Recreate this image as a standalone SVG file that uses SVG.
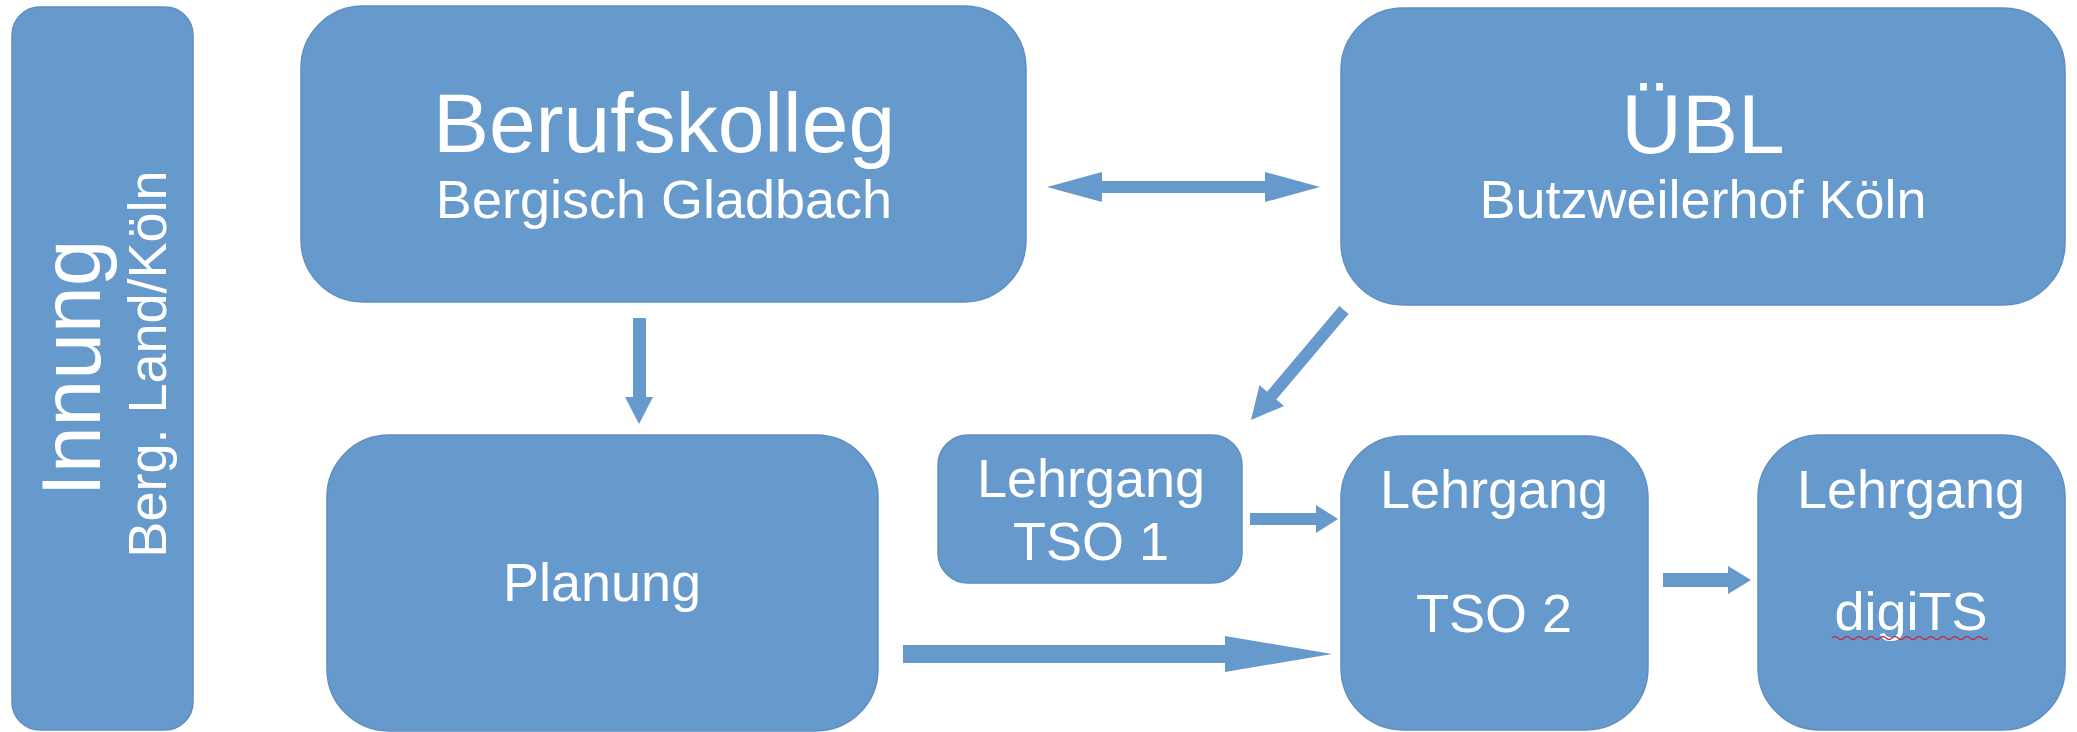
<svg xmlns="http://www.w3.org/2000/svg" width="2077" height="732" viewBox="0 0 2077 732">
<style>
.box{fill:#6699cc;stroke:#5f8fc2;stroke-width:1.5}
.arr{fill:#6699cc;stroke:none}
text{font-family:"Liberation Sans",Arial,sans-serif;fill:#ffffff;text-anchor:middle}
.big{font-size:84px}
.mid{font-size:54px}
</style>
<rect width="2077" height="732" fill="#ffffff"/>
<g id="innung">
<rect class="box" x="12" y="7" width="181" height="723" rx="28"/>
<text class="big" transform="translate(100,368) rotate(-90)">Innung</text>
<text class="mid" transform="translate(166,364) rotate(-90)">Berg. Land/Köln</text>
</g>
<g id="berufskolleg">
<rect class="box" x="301" y="6" width="725" height="296" rx="62"/>
<text class="big" x="664" y="152">Berufskolleg</text>
<text class="mid" x="664" y="218">Bergisch Gladbach</text>
</g>
<g id="uebl">
<rect class="box" x="1341" y="8" width="724" height="297" rx="62"/>
<text class="big" x="1703" y="153">ÜBL</text>
<text class="mid" x="1703" y="218">Butzweilerhof Köln</text>
</g>
<g id="planung">
<rect class="box" x="327" y="435" width="551" height="296" rx="62"/>
<text class="mid" x="602" y="601">Planung</text>
</g>
<g id="tso1">
<rect class="box" x="938" y="435" width="304" height="148" rx="30"/>
<text class="mid" x="1091" y="497">Lehrgang</text>
<text class="mid" x="1091" y="560">TSO 1</text>
</g>
<g id="tso2">
<rect class="box" x="1341" y="436" width="307" height="294" rx="62"/>
<text class="mid" x="1494" y="508">Lehrgang</text>
<text class="mid" x="1494" y="632">TSO 2</text>
</g>
<g id="digits">
<rect class="box" x="1758" y="435" width="307" height="295" rx="62"/>
<text class="mid" x="1911" y="508">Lehrgang</text>
<text class="mid" x="1911" y="630">digiTS</text>
<path d="M1832,638 q3,-3 6,0 t6,0 t6,0 t6,0 t6,0 t6,0 t6,0 t6,0 t6,0 t6,0 t6,0 t6,0 t6,0 t6,0 t6,0 t6,0 t6,0 t6,0 t6,0 t6,0 t6,0 t6,0 t6,0 t6,0 t6,0 t6,0" fill="none" stroke="#c0304a" stroke-width="1.5"/>
</g>
<g id="connectors">
<polygon class="arr" points="1047,187 1102,172 1102,181 1265,181 1265,172 1320,187 1265,202 1265,193 1102,193 1102,202"/>
<polygon class="arr" points="633,318 646,318 646,397 653,397 639,424 625,397 633,397"/>
<polygon class="arr" points="1339.4,306.1 1348.6,313.9 1276.3,399.5 1284,406 1251,420 1259.5,385 1267.1,391.7"/>
<polygon class="arr" points="1250,513 1316,513 1316,505 1338,519 1316,533 1316,525 1250,525"/>
<polygon class="arr" points="903,645 1225,645 1225,636 1332,654 1225,672 1225,663 903,663"/>
<polygon class="arr" points="1663,573 1728,573 1728,566 1751,580 1728,594 1728,587 1663,587"/>
</g>
</svg>
